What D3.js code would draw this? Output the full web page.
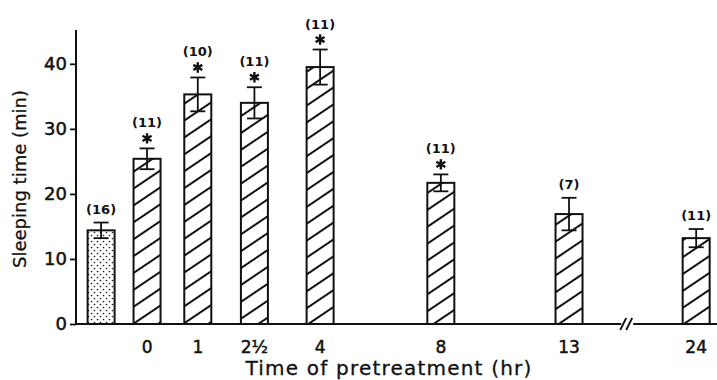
<!DOCTYPE html>
<html>
<head>
<meta charset="utf-8">
<script src="https://cdn.jsdelivr.net/npm/d3@7"></script>
<style>
  body { margin: 0; background: #fff; }
  svg { display: block; }
</style>
</head>
<body>
<div class="chart"></div>
<script>
// data
let categories = ["control", "0", "1", "2½", "4", "8", "13", "24"];
let means = [14.4, 25.4, 35.3, 34.0, 39.5, 21.7, 16.9, 13.2];
let sems = [1.2, 1.6, 2.6, 2.4, 2.7, 1.3, 2.5, 1.4];
let counts = [16, 11, 10, 11, 11, 11, 7, 11];
let significant = [false, true, true, true, true, true, false, false];
let yTicks = [0, 10, 20, 30, 40];

// layout: uneven column slots along the time axis
let slots = [0.47, 1.33, 2.28, 3.34, 4.57, 6.83, 9.23, 11.61];
let breakSlot = 10.3;

let width = 717, height = 380;
let font = "'DejaVu Sans', sans-serif";
let ink = "#111";
let barWidth = 27, capWidth = 15;

let svg = d3.select("div.chart").append("svg")
  .attr("width", width)
  .attr("height", height);

let defs = svg.append("defs");

let hatch = defs.append("pattern")
  .attr("id", "hatch")
  .attr("patternUnits", "userSpaceOnUse")
  .attr("width", 14).attr("height", 14)
  .attr("patternTransform", "rotate(-34)");
hatch.append("rect").attr("width", 14).attr("height", 14).attr("fill", "#fff");
hatch.append("line")
  .attr("x1", 0).attr("x2", 14).attr("y1", 7).attr("y2", 7)
  .attr("stroke", ink).attr("stroke-width", 2);

let dots = defs.append("pattern")
  .attr("id", "dots")
  .attr("patternUnits", "userSpaceOnUse")
  .attr("width", 6).attr("height", 6);
dots.append("rect").attr("width", 6).attr("height", 6).attr("fill", "#fff");
dots.append("circle").attr("cx", 1.5).attr("cy", 1.5).attr("r", 0.85).attr("fill", "#222");
dots.append("circle").attr("cx", 4.5).attr("cy", 4.5).attr("r", 0.85).attr("fill", "#222");

let x = d3.scaleLinear().domain([0, 12]).range([76, 717]);
let y = d3.scaleLinear().domain([0, 45.2]).range([324, 30]);

let rows = categories.map((c, i) => ({
  cat: c, slot: slots[i], mean: means[i], sem: sems[i],
  n: counts[i], sig: significant[i], control: i === 0
}));

// heavier print look for text
function inked(sel, w) {
  sel.attr("fill", ink).attr("stroke", ink).attr("stroke-width", w);
}

// y axis
let yAxis = svg.append("g")
  .attr("transform", "translate(" + x(0) + ",0)")
  .call(d3.axisLeft(y).tickValues(yTicks).tickSize(6).tickPadding(3).tickFormat(d3.format("d")));
yAxis.select(".domain").remove();
yAxis.selectAll(".tick line").attr("stroke", ink).attr("stroke-width", 1.8);
yAxis.selectAll(".tick text")
  .attr("font-family", font)
  .attr("font-size", 18)
  .call(inked, 0.5);

svg.append("line")
  .attr("x1", x(0)).attr("x2", x(0))
  .attr("y1", y(45.2)).attr("y2", y(0) + 1)
  .attr("stroke", ink).attr("stroke-width", 2);

// bars
let bars = svg.selectAll(".bar").data(rows).enter().append("g");

bars.append("rect")
  .attr("x", d => x(d.slot) - barWidth / 2)
  .attr("y", d => y(d.mean))
  .attr("width", barWidth)
  .attr("height", d => y(0) - y(d.mean))
  .attr("fill", d => d.control ? "url(#dots)" : "url(#hatch)")
  .attr("stroke", ink)
  .attr("stroke-width", 2);

// error bars
bars.append("line")
  .attr("x1", d => x(d.slot)).attr("x2", d => x(d.slot))
  .attr("y1", d => y(d.mean + d.sem)).attr("y2", d => y(d.mean - d.sem))
  .attr("stroke", ink).attr("stroke-width", 1.8);
bars.append("line")
  .attr("x1", d => x(d.slot) - capWidth / 2).attr("x2", d => x(d.slot) + capWidth / 2)
  .attr("y1", d => y(d.mean + d.sem)).attr("y2", d => y(d.mean + d.sem))
  .attr("stroke", ink).attr("stroke-width", 1.8);
bars.append("line")
  .attr("x1", d => x(d.slot) - capWidth / 2).attr("x2", d => x(d.slot) + capWidth / 2)
  .attr("y1", d => y(d.mean - d.sem)).attr("y2", d => y(d.mean - d.sem))
  .attr("stroke", ink).attr("stroke-width", 1.8);

// significance stars
bars.filter(d => d.sig).append("path")
  .attr("transform", d => "translate(" + x(d.slot) + "," + (y(d.mean + d.sem) - 10) + ")")
  .attr("d", d3.symbol(d3.symbolAsterisk, 75))
  .attr("fill", "none")
  .attr("stroke", ink)
  .attr("stroke-width", 2.4);

// group sizes
bars.append("text")
  .attr("x", d => x(d.slot))
  .attr("y", d => y(d.mean + d.sem) - (d.sig ? 21 : 9))
  .attr("text-anchor", "middle")
  .attr("font-family", font)
  .attr("font-size", 13)
  .attr("font-weight", "bold")
  .attr("fill", ink)
  .text(d => "(" + d.n + ")");

// x axis with break
let x0 = x(0), xb = x(breakSlot), base = y(0);
svg.append("line")
  .attr("x1", x0 - 1).attr("x2", xb - 5)
  .attr("y1", base).attr("y2", base)
  .attr("stroke", ink).attr("stroke-width", 2);
svg.append("line")
  .attr("x1", xb + 7).attr("x2", width)
  .attr("y1", base).attr("y2", base)
  .attr("stroke", ink).attr("stroke-width", 2);
[-3, 3].forEach(dx => {
  svg.append("line")
    .attr("x1", xb + dx - 3).attr("x2", xb + dx + 3)
    .attr("y1", base + 6).attr("y2", base - 6)
    .attr("stroke", ink).attr("stroke-width", 1.8);
});

svg.selectAll(".xlabel").data(rows.filter(d => !d.control)).enter().append("text")
  .attr("x", d => x(d.slot))
  .attr("y", 353)
  .attr("text-anchor", "middle")
  .attr("font-family", font)
  .attr("font-size", 17)
  .call(inked, 0.5)
  .text(d => d.cat);

// axis titles
svg.append("text")
  .attr("x", 389).attr("y", 375)
  .attr("text-anchor", "middle")
  .attr("font-family", font)
  .attr("font-size", 20)
  .attr("letter-spacing", 1.2)
  .call(inked, 0.3)
  .text("Time of pretreatment (hr)");

svg.append("text")
  .attr("transform", "translate(26,179) rotate(-90)")
  .attr("text-anchor", "middle")
  .attr("font-family", font)
  .attr("font-size", 18)
  .call(inked, 0.3)
  .text("Sleeping time (min)");
</script>
</body>
</html>
